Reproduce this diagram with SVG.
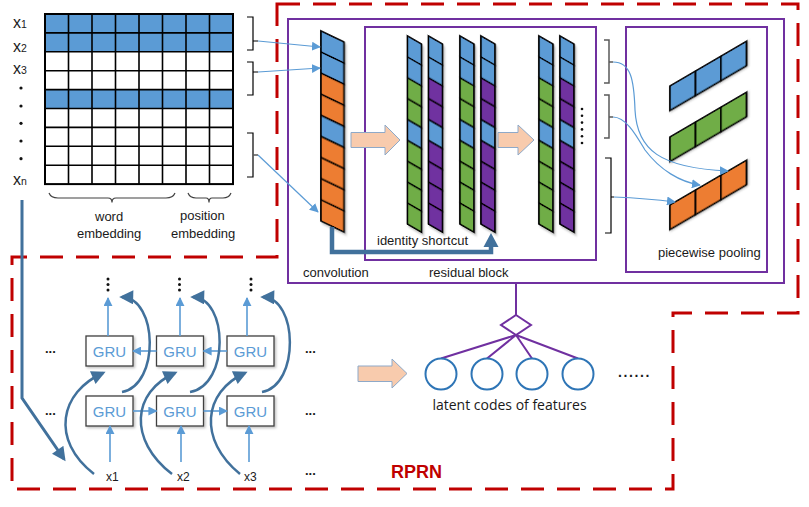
<svg xmlns="http://www.w3.org/2000/svg" xmlns:xlink="http://www.w3.org/1999/xlink" width="809" height="507" viewBox="0 0 809 507">
<style>
text{font-family:"Liberation Sans",Arial,sans-serif;fill:#1a1a1a}
.lbl{font-size:13px}
.gru{font-size:15px;fill:#5B9BD5;text-anchor:middle}
.box{fill:#fff;stroke:#3f3f3f;stroke-width:1.3}
.cell{stroke:#000;stroke-width:1.8}
.b{fill:#5B9BD5}.o{fill:#ED7D31}.g{fill:#70AD47}.p{fill:#7030A0}.w{fill:#fff}
.thin{fill:none;stroke:#5B9BD5;stroke-width:1.2}
.gline{fill:none;stroke:#5B9BD5;stroke-width:1.6}
.dark{fill:none;stroke:#41719C;stroke-width:2.5}
.purple{fill:none;stroke:#7030A0;stroke-width:2}
.brk{fill:none;stroke:#000;stroke-width:1.2}
.brkg{fill:none;stroke:#595959;stroke-width:1.5}
.blk{fill:#F8CBAD;stroke:#8EA9C8;stroke-width:1}
.dot{fill:#111}
.circ{fill:#fff;stroke:#2E75B6;stroke-width:2}
</style>
<defs>
<filter id="sh" x="-30%" y="-30%" width="160%" height="160%"><feDropShadow dx="1.5" dy="1.5" stdDeviation="1" flood-color="#000" flood-opacity="0.25"/></filter>
<marker id="ta" viewBox="0 0 10 10" refX="9" refY="5" markerWidth="9" markerHeight="9" markerUnits="userSpaceOnUse" orient="auto"><path d="M0,0 L10,5 L0,10 Z" fill="#5B9BD5"/></marker>
<marker id="da" viewBox="0 0 10 10" refX="8" refY="5" markerWidth="15" markerHeight="14" markerUnits="userSpaceOnUse" orient="auto"><path d="M0,0 L10,5 L0,10 Z" fill="#41719C"/></marker>
<g id="colG">
<rect class="cell b" x="0" y="0" width="14" height="20.9"/><rect class="cell b" x="0" y="20.9" width="14" height="20.9"/>
<rect class="cell g" x="0" y="41.8" width="14" height="20.9"/><rect class="cell g" x="0" y="62.7" width="14" height="20.9"/>
<rect class="cell b" x="0" y="83.6" width="14" height="20.9"/><rect class="cell g" x="0" y="104.5" width="14" height="20.9"/>
<rect class="cell g" x="0" y="125.4" width="14" height="20.9"/><rect class="cell g" x="0" y="146.3" width="14" height="20.9"/>
<rect class="cell g" x="0" y="167.2" width="14" height="20.9"/>
</g>
<g id="colP">
<rect class="cell b" x="0" y="0" width="14" height="20.9"/><rect class="cell b" x="0" y="20.9" width="14" height="20.9"/>
<rect class="cell p" x="0" y="41.8" width="14" height="20.9"/><rect class="cell p" x="0" y="62.7" width="14" height="20.9"/>
<rect class="cell b" x="0" y="83.6" width="14" height="20.9"/><rect class="cell p" x="0" y="104.5" width="14" height="20.9"/>
<rect class="cell p" x="0" y="125.4" width="14" height="20.9"/><rect class="cell p" x="0" y="146.3" width="14" height="20.9"/>
<rect class="cell p" x="0" y="167.2" width="14" height="20.9"/>
</g>
</defs>
<rect width="809" height="507" fill="#fff"/>

<!-- RPRN dashed boundary -->
<g id="rprn-boundary">
<path d="M277,4 L798,4 L798,313 L673,313 L673,489 L12,489 L12,257 L277,257 Z" fill="none" stroke="#C00000" stroke-width="3" stroke-dasharray="23 13"/>
<text x="391" y="478" style="font-size:18px;font-weight:bold;fill:#C00000">RPRN</text>
</g>

<!-- input matrix -->
<g id="input-matrix">
<rect x="45" y="14" width="188" height="18.9" class="b"/>
<rect x="45" y="32.9" width="188" height="18.9" class="b"/>
<rect x="45" y="89.6" width="188" height="18.9" class="b"/>
<path d="M45,32.9H233M45,51.8H233M45,70.7H233M45,89.6H233M45,108.5H233M45,127.4H233M45,146.3H233M45,165.2H233M68.5,14V184.1M92,14V184.1M115.5,14V184.1M139,14V184.1M162.5,14V184.1M186,14V184.1M209.5,14V184.1" stroke="#000" stroke-width="1.6" fill="none"/>
<rect x="45" y="14" width="188" height="170.1" fill="none" stroke="#000" stroke-width="2"/>
<text x="13" y="28.3" style="font-size:16px">x<tspan style="font-size:10.5px">1</tspan></text>
<text x="13" y="52.3" style="font-size:16px">x<tspan style="font-size:10.5px">2</tspan></text>
<text x="13" y="74.3" style="font-size:16px">x<tspan style="font-size:10.5px">3</tspan></text>
<text x="13" y="185.3" style="font-size:16px">x<tspan style="font-size:10.5px">n</tspan></text>
<circle class="dot" cx="21" cy="88" r="1.6"/><circle class="dot" cx="21" cy="106" r="1.6"/><circle class="dot" cx="21" cy="123.3" r="1.6"/><circle class="dot" cx="21" cy="141" r="1.6"/><circle class="dot" cx="21" cy="158.7" r="1.6"/>
<path d="M49,193 Q51,198 58,198 L108,198 Q112,198 112,202.5 Q112,198 116,198 L166,198 Q173,198 175,193" fill="none" stroke="#404040" stroke-width="1.2"/>
<path d="M188,193 Q190,198 196,198 L206,198 Q209,198 209,202.5 Q209,198 212,198 L223,198 Q229,198 231,193" fill="none" stroke="#404040" stroke-width="1.2"/>
<text x="95" y="220.5" class="lbl">word</text>
<text x="77" y="237.5" class="lbl">embedding</text>
<text x="180" y="219.5" class="lbl">position</text>
<text x="171" y="237.5" class="lbl">embedding</text>
<path class="brk" d="M247,17H253V50H247M253,41H258"/>
<path class="brk" d="M247,62H253V95H247M253,72H258"/>
<path class="brk" d="M247,133H253V177H247"/>
<path class="brkg" d="M253,155H258"/>
</g>

<!-- CNN part -->
<g id="cnn-box">
<rect x="288" y="19" width="496" height="264" fill="none" stroke="#7030A0" stroke-width="2"/>
</g>
<g id="convolution">
<g transform="translate(321,31) skewY(25.6)" filter="url(#sh)">
<rect class="cell b" x="0" y="0" width="23" height="21.1"/><rect class="cell b" x="0" y="21.1" width="23" height="21.1"/>
<rect class="cell o" x="0" y="42.2" width="23" height="21.1"/><rect class="cell o" x="0" y="63.3" width="23" height="21.1"/>
<rect class="cell b" x="0" y="84.4" width="23" height="21.1"/><rect class="cell o" x="0" y="105.5" width="23" height="21.1"/>
<rect class="cell o" x="0" y="126.6" width="23" height="21.1"/><rect class="cell o" x="0" y="147.7" width="23" height="21.1"/>
<rect class="cell o" x="0" y="168.8" width="23" height="21.1"/>
</g>
<text x="303" y="277" class="lbl">convolution</text>
</g>
<g id="residual-block">
<rect x="365" y="27" width="231" height="233" fill="none" stroke="#7030A0" stroke-width="2"/>
<use xlink:href="#colG" transform="translate(407.5,36) skewY(30)" filter="url(#sh)"/>
<use xlink:href="#colP" transform="translate(428.5,36) skewY(30)" filter="url(#sh)"/>
<use xlink:href="#colG" transform="translate(460,36) skewY(30)" filter="url(#sh)"/>
<use xlink:href="#colP" transform="translate(481,36) skewY(30)" filter="url(#sh)"/>
<text x="377" y="245" class="lbl">identity shortcut</text>
<text x="429" y="277" class="lbl">residual block</text>
</g>
<g id="residual-output">
<use xlink:href="#colG" transform="translate(539,36) skewY(30)" filter="url(#sh)"/>
<use xlink:href="#colP" transform="translate(560,36) skewY(30)" filter="url(#sh)"/>
<circle class="dot" cx="582" cy="109" r="1.3"/><circle class="dot" cx="582" cy="115.8" r="1.3"/><circle class="dot" cx="582" cy="122.6" r="1.3"/><circle class="dot" cx="582" cy="129.4" r="1.3"/><circle class="dot" cx="582" cy="136.2" r="1.3"/><circle class="dot" cx="582" cy="143" r="1.3"/>
<path class="brkg" d="M604,40H609V83H604M609,62H613"/>
<path class="brkg" d="M604,95H609V138H604M609,117H613"/>
<path class="brk" d="M605,158H611V233H605M611,197H614"/>
</g>
<g id="piecewise-pooling">
<rect x="626" y="27" width="141" height="245" fill="none" stroke="#7030A0" stroke-width="2"/>
<g transform="translate(670,86) skewY(-30.3)" filter="url(#sh)">
<rect class="cell b" x="0" y="0" width="25.5" height="24.5"/><rect class="cell b" x="25.5" y="0" width="25.5" height="24.5"/><rect class="cell b" x="51" y="0" width="25.5" height="24.5"/>
</g>
<g transform="translate(670,137) skewY(-30.3)" filter="url(#sh)">
<rect class="cell g" x="0" y="0" width="25.5" height="24.5"/><rect class="cell g" x="25.5" y="0" width="25.5" height="24.5"/><rect class="cell g" x="51" y="0" width="25.5" height="24.5"/>
</g>
<g transform="translate(670,205) skewY(-30.3)" filter="url(#sh)">
<rect class="cell o" x="0" y="0" width="25.5" height="24.5"/><rect class="cell o" x="25.5" y="0" width="25.5" height="24.5"/><rect class="cell o" x="51" y="0" width="25.5" height="24.5"/>
</g>
<text x="658" y="257" class="lbl">piecewise pooling</text>
</g>

<!-- block arrows -->
<g id="block-arrows">
<path class="blk" d="M351,132.5H385V125L400,140L385,155V147.5H351Z"/>
<path class="blk" d="M498,132.5H518V125L534,140L518,155V147.5H498Z"/>
<path class="blk" d="M358,366H392V359L407,373.5L392,388V381.5H358Z"/>
</g>

<!-- latent codes -->
<g id="latent-codes">
<path class="purple" d="M516,283V315"/>
<path class="purple" d="M516,315L531,325L516,335L501,325Z"/>
<path class="purple" d="M516,335L441,358.5M516,335L487,358.5M516,335L532,358.5M516,335L578,358.5"/>
<circle class="circ" cx="441" cy="374" r="15.5"/>
<circle class="circ" cx="487" cy="374" r="15.5"/>
<circle class="circ" cx="532" cy="374" r="15.5"/>
<circle class="circ" cx="578" cy="374" r="15.5"/>
<text x="618" y="377" style="font-size:14px;font-weight:bold;letter-spacing:1.6px">......</text>
<text x="509.5" y="410" style="font-family:'Open Sans','Noto Sans',sans-serif;font-size:14px;text-anchor:middle">latent codes of features</text>
</g>

<!-- GRU nodes -->
<g id="gru-top-1"><rect class="box" x="86" y="336" width="47" height="30" filter="url(#sh)"/><text class="gru" x="109.5" y="356.5">GRU</text></g>
<g id="gru-top-2"><rect class="box" x="156.5" y="336" width="47" height="30" filter="url(#sh)"/><text class="gru" x="180" y="356.5">GRU</text></g>
<g id="gru-top-3"><rect class="box" x="227" y="336" width="47" height="30" filter="url(#sh)"/><text class="gru" x="250.5" y="356.5">GRU</text></g>
<g id="gru-bot-1"><rect class="box" x="86" y="396" width="47" height="30" filter="url(#sh)"/><text class="gru" x="109.5" y="416.5">GRU</text></g>
<g id="gru-bot-2"><rect class="box" x="156.5" y="396" width="47" height="30" filter="url(#sh)"/><text class="gru" x="180" y="416.5">GRU</text></g>
<g id="gru-bot-3"><rect class="box" x="227" y="396" width="47" height="30" filter="url(#sh)"/><text class="gru" x="250.5" y="416.5">GRU</text></g>
<g id="gru-labels">
<text x="106" y="481" style="font-size:12px">x1</text>
<text x="177" y="481" style="font-size:12px">x2</text>
<text x="244" y="481" style="font-size:12px">x3</text>
<text x="45" y="353" style="font-size:13px;font-weight:bold">...</text>
<text x="45" y="415" style="font-size:13px;font-weight:bold">...</text>
<text x="305" y="353" style="font-size:13px;font-weight:bold">...</text>
<text x="305" y="415" style="font-size:13px;font-weight:bold">...</text>
<text x="305" y="475" style="font-size:13px;font-weight:bold">...</text>
<circle class="dot" cx="108" cy="279" r="1.5"/><circle class="dot" cx="108" cy="284.5" r="1.5"/><circle class="dot" cx="108" cy="290" r="1.5"/>
<circle class="dot" cx="179.5" cy="279" r="1.5"/><circle class="dot" cx="179.5" cy="284.5" r="1.5"/><circle class="dot" cx="179.5" cy="290" r="1.5"/>
<circle class="dot" cx="251" cy="279" r="1.5"/><circle class="dot" cx="251" cy="284.5" r="1.5"/><circle class="dot" cx="251" cy="290" r="1.5"/>
</g>

<!-- connectors -->
<g id="connectors">
<path class="thin" d="M258,41L320,47" marker-end="url(#ta)"/>
<path class="thin" d="M258,72L320,68" marker-end="url(#ta)"/>
<path class="thin" d="M258,155L318,212" marker-end="url(#ta)"/>
<path class="thin" d="M613,62C631,62 634,80 635,110C637,150 660,168 728,171" marker-end="url(#ta)"/>
<path class="thin" d="M613,117C626,117 636,135 645,150C660,170 680,182 700,185" marker-end="url(#ta)"/>
<path class="thin" d="M614,197C640,198 660,200 675,202" marker-end="url(#ta)"/>
<path d="M332,227V252H491V245" fill="none" stroke="#41719C" stroke-width="4.5"/>
<path d="M491,233L498.5,247L483.5,247Z" fill="#41719C"/>
<path d="M22,200V398L64,459" fill="none" stroke="#41719C" stroke-width="3" marker-end="url(#da)"/>
<path class="gline" d="M156.5,351H133" marker-end="url(#ta)"/>
<path class="gline" d="M227,351H203.5" marker-end="url(#ta)"/>
<path class="gline" d="M133,411H156.5" marker-end="url(#ta)"/>
<path class="gline" d="M203.5,411H227" marker-end="url(#ta)"/>
<path class="gline" d="M110,462V426" marker-end="url(#ta)"/>
<path class="gline" d="M181,462V426" marker-end="url(#ta)"/>
<path class="gline" d="M249,462V426" marker-end="url(#ta)"/>
<path class="gline" d="M108,336V298" marker-end="url(#ta)"/>
<path class="gline" d="M180,336V298" marker-end="url(#ta)"/>
<path class="gline" d="M247,336V298" marker-end="url(#ta)"/>
<path class="dark" d="M94,474C50,440 60,392 103,373" marker-end="url(#da)"/>
<path class="dark" d="M172,474C128,440 132,392 175,373" marker-end="url(#da)"/>
<path class="dark" d="M240,474C198,440 203,392 245,373" marker-end="url(#da)"/>
<path class="dark" d="M122,392C160,385 158,298 122,297" marker-end="url(#da)"/>
<path class="dark" d="M190,392C230,385 228,298 193,297" marker-end="url(#da)"/>
<path class="dark" d="M262,392C300,385 298,298 263,297" marker-end="url(#da)"/>
</g>
</svg>
